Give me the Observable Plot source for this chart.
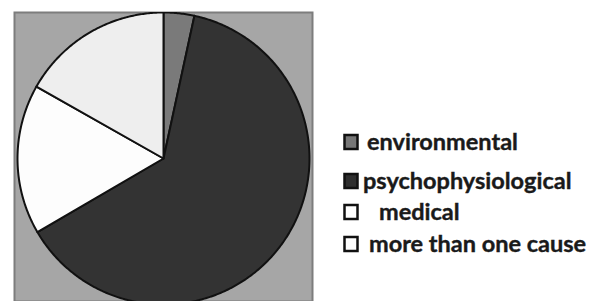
<!DOCTYPE html>
<html>
<head>
<meta charset="utf-8">
<script src="https://cdn.jsdelivr.net/npm/d3@7"></script>
<script src="https://cdn.jsdelivr.net/npm/@observablehq/plot@0.6"></script>
<style>
  body { margin: 0; background: #fff; }
  #wrap { position: relative; width: 590px; height: 301px; overflow: hidden; background: #fff; }
  #legend { position: absolute; left: 0; top: 0; }
</style>
</head>
<body>
<div id="wrap"></div>
<script>
const causes = ["environmental", "psychophysiological", "medical", "more than one cause"];
const shares = [3.4, 63.2, 16.6, 16.8];
const sliceColors = ["#7a7a7a", "#333333", "#fdfdfd", "#eeeeee"];
const swatchColors = ["#777777", "#2e2e2e", "#ffffff", "#ffffff"];
const legendBaselines = [150, 189, 220, 252];
const legendTextX = [367, 363, 379, 369];

const data = causes.map((c, i) => ({cause: c, value: shares[i]}));
const R = 146;
const arcs = d3.pie().sort(null).value(d => d.value)(data);
const pts = [];
for (const a of arcs) {
  pts.push({cause: a.data.cause, x: 0, y: 0});
  const n = Math.max(4, Math.ceil((a.endAngle - a.startAngle) / 0.01));
  for (let k = 0; k <= n; k++) {
    const t = a.startAngle + (a.endAngle - a.startAngle) * k / n;
    pts.push({cause: a.data.cause, x: R * Math.sin(t), y: R * Math.cos(t)});
  }
}

const chart = Plot.plot({
  width: 590,
  height: 301,
  marginLeft: 14,
  marginRight: 278,
  marginTop: 12,
  marginBottom: 0,
  style: {background: "#fff"},
  x: {domain: [-149, 149], axis: null},
  y: {domain: [-143, 146], axis: null},
  color: {type: "ordinal", domain: causes, range: sliceColors},
  marks: [
    Plot.frame({fill: "#a6a6a6", stroke: "#7d7d7d", strokeWidth: 2}),
    Plot.line(pts, {x: "x", y: "y", z: "cause", fill: "cause", stroke: "#111", strokeWidth: 2, curve: "linear-closed", clip: "frame"})
  ]
});
const wrap = document.getElementById("wrap");
wrap.appendChild(chart);

const ns = "http://www.w3.org/2000/svg";
const lg = document.createElementNS(ns, "svg");
lg.setAttribute("id", "legend");
lg.setAttribute("width", 590);
lg.setAttribute("height", 301);
causes.forEach((c, i) => {
  const r = document.createElementNS(ns, "rect");
  r.setAttribute("x", 344.5);
  r.setAttribute("y", legendBaselines[i] - 15);
  r.setAttribute("width", 13);
  r.setAttribute("height", 14);
  r.setAttribute("fill", swatchColors[i]);
  r.setAttribute("stroke", "#111");
  r.setAttribute("stroke-width", 2.5);
  lg.appendChild(r);
  const t = document.createElementNS(ns, "text");
  t.setAttribute("x", legendTextX[i]);
  t.setAttribute("y", legendBaselines[i]);
  t.setAttribute("font-family", "Lato, 'Open Sans', sans-serif");
  t.setAttribute("font-weight", "bold");
  t.setAttribute("font-size", "23.5");
  t.setAttribute("fill", "#1a1a1a");
  t.setAttribute("stroke", "#1a1a1a");
  t.setAttribute("stroke-width", "0.4");
  t.textContent = c;
  lg.appendChild(t);
});
wrap.appendChild(lg);
</script>
</body>
</html>
